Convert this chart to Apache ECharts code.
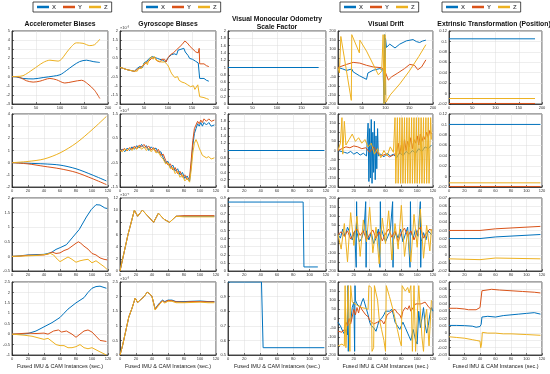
<!DOCTYPE html>
<html><head><meta charset="utf-8">
<script src="https://cdn.jsdelivr.net/npm/echarts/dist/echarts.min.js"></script>
<style>html,body{margin:0;padding:0;background:#fff}#c{width:550px;height:374px}</style>
</head><body><div id="c"></div><script>
// ---------- DATA ----------
const seriesNames = ['X','Y','Z'];
const colTitles = ['Accelerometer Biases','Gyroscope Biases','Visual Monocular Odometry\nScale Factor','Visual Drift','Extrinsic Transformation (Position)'];
const xLabel = 'Fused IMU & CAM Instances (sec.)';

// Row 1
const r1c1X=[[0,0],[10,-0.05],[23,-0.2],[44,-0.25],[65,-0.1],[86,0.05],[100,0.2],[113,0.65],[127,1.2],[141,1.65],[155,1.8],[169,1.65],[183,1.55]];
const r1c1Y=[[0,0],[10,-0.02],[17,-0.1],[30,-0.45],[44,-0.6],[58,-0.5],[79,-0.2],[93,-0.35],[110,-0.7],[127,-0.55],[145,-0.4],[158,-0.8],[172,-1.5],[183,-2.4]];
const r1c1Z=[[0,0],[10,0.02],[23,0.1],[44,0.8],[65,1.55],[79,1.8],[96,1.7],[103,1.9],[113,2.6],[124,3.3],[134,3.7],[148,3.65],[162,3.4],[172,3.5],[183,4.1]];
const r1c2X=[[0,0],[5,-0.03],[10,-0.08],[15,-0.12],[20,-0.15],[25,-0.18],[30,-0.2],[33,-0.15],[36,-0.05],[38,-0.12],[41,0.05],[44,0.1],[47,0],[50,0.25],[53,0.2],[56,0.35],[58,0.3],[61,0.5],[64,0.45],[67,0.6],[70,0.7],[72,0.55],[75,0.65],[78,0.5],[80,0.6],[83,0.45],[86,0.55],[89,0.4],[92,0.5],[95,0.3],[98,0.4],[101,0.55],[104,0.6],[107,0.7],[110,0.6],[113,0.75],[116,0.8],[118,0.7],[121,0.95],[124,0.85],[127,1.0],[130,0.9],[133,1.05],[136,0.85],[139,0.75],[142,0.65],[145,0.5],[148,0.6],[151,0.45],[154,0.5],[157,0.35],[160,0.4],[163,0.25],[165,0.3],[166,-0.6],[170,-0.55],[175,-0.6],[180,-0.7],[185,-0.75]];
const r1c2Y=[[0,0],[5,-0.03],[10,-0.08],[15,-0.12],[20,-0.15],[25,-0.18],[30,-0.22],[33,-0.25],[36,-0.1],[39,-0.15],[42,0],[45,-0.05],[48,0.1],[51,0.05],[54,0.25],[57,0.2],[60,0.35],[63,0.3],[66,0.5],[69,0.4],[72,0.55],[75,0.5],[78,0.35],[81,0.45],[84,0.3],[87,0.45],[90,0.35],[93,0.45],[96,0.3],[99,0.5],[102,0.55],[105,0.7],[108,0.65],[111,0.8],[114,0.75],[117,0.95],[120,0.85],[123,1.1],[126,1.0],[129,1.25],[132,1.2],[135,1.45],[137,1.5],[140,1.35],[143,1.3],[146,1.15],[149,1.2],[152,1.0],[155,1.05],[158,0.85],[161,0.95],[163,0.8],[165,1.05],[166,0.2],[170,0.25],[175,0.2],[180,0.1],[185,0.05]];
const r1c2Z=[[0,0],[5,-0.03],[10,-0.08],[15,-0.12],[20,-0.15],[25,-0.18],[30,-0.2],[33,-0.1],[36,-0.2],[39,-0.05],[42,0.05],[45,-0.05],[48,0.15],[51,0.1],[54,0.3],[57,0.15],[60,0.4],[63,0.35],[66,0.6],[69,0.45],[72,0.6],[75,0.4],[78,0.5],[81,0.35],[84,0.45],[87,0.3],[90,0.4],[93,0.3],[96,0.35],[99,0.15],[102,0],[105,-0.2],[108,-0.35],[111,-0.3],[114,-0.55],[117,-0.6],[120,-0.5],[123,-0.7],[126,-0.65],[129,-0.8],[132,-0.75],[135,-0.85],[138,-0.8],[141,-0.95],[144,-0.9],[147,-1.05],[150,-1.1],[153,-1.0],[156,-1.2],[159,-1.1],[162,-0.95],[165,-0.9],[166,-1.6],[170,-1.55],[175,-1.65],[180,-1.7],[185,-1.75]];
const r1c3X=[[0,1],[185,1]];
const r1c4X=[[0,0],[10,-8],[18,-16],[29,-8],[32,-24],[45,-45],[60,-65],[63,-30],[74,-15],[88,-6],[95,-15],[97,-200],[98,180],[99,-150],[100,160],[102,110],[109,128],[120,107],[130,128],[144,146],[158,153],[165,142],[172,137],[178,145],[185,150]];
const r1c4Y=[[0,0],[18,17],[32,28],[46,24],[60,12],[74,3],[91,-1],[98,-15],[106,-69],[113,-51],[126,-30],[140,-6],[151,17],[161,12],[168,-12],[176,3],[185,42]];
const r1c4Z=[[0,0],[3,-30],[6,170],[28,-180],[29,180],[45,80],[46,150],[60,90],[85,-40],[92,-20],[95,180],[97,-200],[99,180],[101,-190],[110,-150],[130,-90],[150,-20],[170,60],[185,125]];
const r1c5X=[[0,0.105],[185,0.105]];
const r1c5Y=[[0,-0.019],[185,-0.019]];
const r1c5Z=[[0,-0.0095],[185,-0.0095]];

// Row 2
const r2c1X=[[0,0],[20,-0.05],[40,-0.1],[60,-0.2],[80,-0.5],[100,-1.0],[118,-1.5]];
const r2c1Y=[[0,0],[20,-0.1],[40,-0.3],[60,-0.5],[80,-0.8],[100,-1.3],[118,-1.8]];
const r2c1Z=[[0,0],[20,0.1],[40,0.3],[60,0.8],[80,1.6],[100,2.7],[118,3.8]];
const r2c2X=[[0,0],[3,0.05],[6,-0.05],[9,0.1],[12,0],[15,0.15],[18,0.05],[21,0.2],[24,0.1],[27,0.25],[30,0.1],[33,0.2],[36,0],[39,0.15],[42,0.05],[45,0.1],[48,-0.1],[51,-0.05],[54,-0.3],[57,-0.5],[60,-0.45],[63,-0.7],[66,-0.6],[69,-0.85],[72,-0.75],[75,-1.0],[78,-0.9],[81,-1.15],[84,-1.05],[87,-1.25],[89,-0.6],[91,0.2],[93,0.7],[95,0.9],[97,1.1],[99,1.0],[101,1.15],[103,1.0],[105,1.15],[108,1.05],[111,1.15],[114,1.0],[118,1.05]];
const r2c2Y=[[0,0],[3,0.02],[6,0.08],[9,-0.02],[12,0.12],[15,0.05],[18,0.18],[21,0.08],[24,0.22],[27,0.15],[30,0.25],[33,0.1],[36,0.18],[39,0.02],[42,0.12],[45,-0.05],[48,0.05],[51,-0.2],[54,-0.15],[57,-0.4],[60,-0.6],[63,-0.55],[66,-0.8],[69,-0.7],[72,-0.95],[75,-0.85],[78,-1.1],[81,-1.0],[84,-1.2],[87,-1.1],[89,-0.4],[91,0.4],[93,0.9],[95,1.05],[97,1.2],[99,1.1],[101,1.25],[103,1.15],[105,1.3],[108,1.2],[111,1.3],[114,1.2],[118,1.25]];
const r2c2Z=[[0,0],[3,-0.05],[6,0.05],[9,0],[12,0.1],[15,0],[18,0.12],[21,0.05],[24,0.18],[27,0.05],[30,0.15],[33,0],[36,0.1],[39,-0.05],[42,0.08],[45,-0.1],[48,-0.05],[51,-0.25],[54,-0.35],[57,-0.55],[60,-0.5],[63,-0.75],[66,-0.7],[69,-0.95],[72,-0.85],[75,-1.1],[78,-1.0],[81,-1.25],[84,-1.15],[87,-1.3],[89,-0.8],[91,-0.1],[93,0.3],[95,0.45],[97,0.3],[99,0.1],[101,-0.05],[103,-0.2],[105,-0.15],[108,-0.3],[111,-0.25],[114,-0.35],[118,-0.3]];
const r2c3X=[[0,1],[118,1]];
const r2c4X=[[0,0],[4,-5],[8,-10],[12,-15],[16,-5],[20,-20],[24,-10],[28,-25],[32,-15],[36,-30],[38,150],[39,-170],[40,120],[41,-150],[42,170],[43,-180],[44,100],[45,-120],[46,160],[47,-160],[48,80],[49,-100],[50,120],[51,-30],[54,-20],[58,-35],[62,-15],[66,-30],[70,-20],[74,-40],[78,-10],[82,-30],[86,-5],[90,-20],[94,0],[98,-15],[102,10],[106,-5],[110,20],[114,10],[118,30]];
const r2c4Y=[[0,0],[5,10],[10,20],[15,15],[20,25],[25,20],[30,10],[35,15],[40,-10],[45,20],[50,-15],[55,-30],[60,-20],[65,-35],[70,-25],[74,-10],[76,40],[78,-20],[80,30],[82,-30],[84,60],[86,0],[88,50],[90,20],[92,70],[94,10],[96,60],[98,40],[100,80],[102,30],[104,90],[106,50],[108,80],[110,60],[112,100],[114,70],[116,110],[118,90]];
const r2c4Z=[[0,0],[3,40],[5,180],[6,-20],[8,160],[10,30],[14,60],[18,90],[22,50],[26,70],[30,40],[34,60],[38,20],[42,40],[46,-20],[50,10],[54,-40],[58,0],[62,-30],[66,20],[70,-10],[72,180],[73,-180],[75,180],[76,-180],[78,180],[79,-180],[81,180],[82,-180],[84,180],[85,-180],[87,180],[88,-180],[90,180],[91,-180],[93,180],[94,-180],[96,180],[97,-180],[99,180],[100,-180],[102,180],[103,-180],[105,180],[106,-180],[108,180],[109,-180],[111,180],[112,-180],[114,180],[115,-180],[117,180],[118,60]];
const r2c5X=[[0,0.1],[118,0.1]];
const r2c5Y=[[0,-0.019],[118,-0.019]];
const r2c5Z=[[0,-0.012],[118,-0.012]];

// Row 3
const r3c1X=[[0,0],[10,0.02],[20,0.05],[30,0.06],[40,0.07],[49,0.13],[55,0.24],[61,0.31],[68,0.4],[76,0.66],[84,0.92],[93,1.35],[99,1.6],[105,1.77],[110,1.76],[116,1.66],[119,1.64]];
const r3c1Y=[[0,0],[10,0.01],[20,0.04],[30,0.04],[40,0.05],[45,0.08],[50,0.15],[55,0.1],[60,0.12],[65,0.2],[70,0.25],[75,0.35],[80,0.45],[83,0.5],[86,0.45],[90,0.35],[95,0.25],[100,0.1],[105,0.05],[110,-0.05],[115,-0.1],[119,-0.12]];
const r3c1Z=[[0,0],[10,0.01],[20,0.02],[30,0.03],[40,0.06],[48,0.1],[52,0.05],[55,-0.05],[60,-0.18],[65,-0.1],[70,-0.02],[75,-0.1],[80,-0.2],[85,-0.15],[90,-0.12],[95,-0.1],[100,-0.22],[105,-0.15],[110,-0.25],[115,-0.35],[119,-0.45]];
const r3c2X=[[0,0],[5,3],[10,6],[15,8.5],[18,10],[22,9],[28,10],[35,9],[42,8],[48,9.5],[55,8.5],[62,8],[70,9],[80,9],[100,9],[118,9]];
const r3c2Y=[[0,0],[5,3],[10,6],[15,8.5],[18,10],[22,9],[28,10],[35,9],[42,8],[48,9.5],[55,8.5],[62,8],[70,9],[80,9.1],[100,9.1],[118,9.1]];
const r3c2Z=[[0,0],[5,3],[10,6],[15,8.5],[18,10],[22,9],[28,10],[35,9],[42,8],[48,9.5],[55,8.5],[62,8],[70,9],[80,8.9],[100,8.9],[118,8.9]];
const r3c3X=[[0,0.85],[92,0.85],[93,0.05],[110,0.05]];
const r3c4X=[[0,0],[3,-20],[6,30],[9,-10],[12,40],[15,10],[18,-30],[21,20],[23,-180],[23.5,180],[24,10],[27,-40],[30,-20],[33,30],[35,180],[35.5,-180],[36,20],[39,-30],[42,10],[45,-50],[48,-20],[51,30],[53,-180],[53.5,180],[54,40],[57,0],[60,-40],[63,-10],[66,20],[69,180],[69.5,-180],[70,-30],[73,10],[76,-20],[79,30],[82,-40],[85,0],[88,40],[91,-180],[91.5,180],[92,20],[95,-20],[98,30],[101,-10],[104,180],[104.5,-180],[105,-40],[108,10],[111,-30],[114,20],[118,0]];
const r3c4Y=[[0,0],[4,15],[8,-10],[12,20],[16,-25],[20,10],[24,30],[28,-5],[32,20],[36,-30],[40,0],[44,25],[48,-20],[52,15],[56,-35],[60,5],[64,30],[68,-15],[72,20],[76,-40],[80,10],[84,35],[88,-10],[92,20],[96,-30],[100,15],[104,40],[108,-20],[112,10],[116,30],[118,20]];
const r3c4Z=[[0,0],[4,-80],[8,60],[12,-150],[16,120],[20,-60],[24,100],[28,-120],[32,80],[36,-40],[40,150],[44,-100],[48,40],[52,-160],[56,90],[60,-50],[64,130],[68,-140],[72,60],[76,-80],[80,160],[84,-120],[88,20],[92,-150],[96,110],[100,-70],[104,140],[108,-130],[112,50],[116,-90],[118,30]];
const r3c5X=[[0,0.02],[40,0.02],[60,0.022],[118,0.025]];
const r3c5Y=[[0,0.03],[40,0.03],[60,0.032],[118,0.035]];
const r3c5Z=[[0,-0.005],[40,-0.006],[60,-0.004],[118,-0.005]];

// Row 4
const r4c1X=[[0,0],[10,0],[20,0.03],[30,0.15],[40,0.35],[50,0.55],[60,0.8],[65,1.0],[70,1.2],[80,1.5],[90,1.75],[95,2.0],[100,2.2],[105,2.28],[110,2.3],[118,2.2]];
const r4c1Y=[[0,0],[20,0.05],[30,0.03],[40,0.05],[45,0],[52,0.15],[58,0.2],[62,0.1],[68,0.15],[75,0],[80,-0.15],[85,0],[90,0.15],[95,0.2],[100,0.1],[110,-0.3],[118,-0.35]];
const r4c1Z=[[0,0],[15,-0.05],[25,-0.1],[35,-0.2],[40,-0.25],[45,-0.2],[55,-0.5],[60,-0.55],[65,-0.55],[70,-0.65],[75,-0.65],[80,-0.6],[85,-0.5],[90,-0.65],[95,-0.7],[100,-0.65],[105,-0.75],[110,-0.85],[118,-1.0]];
const r4c2X=[[0,0],[3,0.3],[7,0.8],[11,1.3],[15,1.6],[19,1.95],[22,1.8],[26,1.9],[30,2.0],[34,2.15],[37,2.1],[40,2.0],[42,2.05],[44,1.58],[47,1.7],[50,1.8],[53,1.88],[56,1.83],[60,1.88],[65,1.88],[70,1.83],[80,1.83],[90,1.84],[100,1.85],[110,1.83],[118,1.83]];
const r4c2Y=[[0,0],[3,0.3],[7,0.8],[11,1.3],[15,1.6],[19,1.95],[22,1.8],[26,1.9],[30,2.0],[34,2.15],[37,2.1],[40,2.0],[42,2.05],[44,1.56],[47,1.68],[50,1.78],[53,1.86],[56,1.81],[60,1.87],[65,1.86],[70,1.82],[80,1.81],[90,1.83],[100,1.83],[110,1.82],[118,1.82]];
const r4c2Z=[[0,0],[3,0.3],[7,0.8],[11,1.3],[15,1.6],[19,1.95],[22,1.8],[26,1.9],[30,2.0],[34,2.15],[37,2.1],[40,2.0],[42,2.05],[44,1.54],[47,1.65],[50,1.75],[53,1.84],[56,1.78],[60,1.84],[65,1.84],[70,1.79],[80,1.79],[90,1.8],[100,1.81],[110,1.79],[118,1.79]];
const r4c3X=[[0,1],[41,1],[43,0.55],[118,0.55]];
const r4c4X=[[0,-20],[3,-40],[6,-70],[8,-85],[10,-60],[12,-90],[12.5,180],[13,-180],[14,-40],[16,-20],[18,60],[20,90],[21,-180],[21.5,180],[22,100],[24,80],[26,90],[28,60],[30,90],[32,110],[34,80],[36,50],[38,20],[40,-20],[42,-40],[45,-50],[48,-70],[50,-40],[52,-10],[55,0],[58,20],[60,40],[62,30],[65,40],[68,50],[70,20],[72,-20],[75,-40],[78,-60],[80,-40],[82,-20],[85,-50],[88,-80],[90,-100],[92,-120],[95,-60],[98,-120],[100,-140],[102,40],[104,-50],[106,0],[108,60],[110,-30],[112,-80],[114,-40],[116,20],[118,60],[120,40]];
const r4c4Y=[[0,-70],[5,-75],[8,-60],[10,-20],[12,-40],[14,0],[16,-30],[18,-20],[20,50],[22,20],[24,60],[26,30],[28,70],[30,50],[32,40],[35,20],[38,10],[40,-10],[45,-30],[50,-20],[55,-10],[58,-30],[60,-10],[62,20],[65,30],[68,40],[70,30],[72,50],[75,30],[78,20],[80,0],[82,40],[85,60],[88,50],[90,70],[92,40],[95,60],[98,80],[100,70],[105,80],[110,90],[115,60],[118,50]];
const r4c4Z=[[0,-150],[5,-140],[8,-150],[9,180],[10,-160],[12,-170],[13,180],[15,-180],[16,180],[18,90],[20,80],[25,70],[30,60],[35,55],[38,50],[39,180],[42,170],[43,-180],[45,-160],[46,180],[50,100],[52,0],[55,-60],[58,-120],[60,-180],[61,180],[65,120],[70,40],[75,-60],[78,-120],[80,-150],[81,180],[85,150],[88,170],[90,140],[92,180],[94,-180],[96,180],[98,-180],[100,-170],[102,180],[104,170],[106,-100],[108,-180],[110,0],[112,50],[115,-150],[118,100]];
const r4c5X=[[0,0.0105],[10,0.0105],[20,0.0102],[30,0.0095],[35,0.008],[40,0.009],[41.5,0.012],[42.5,0.022],[50,0.023],[60,0.022],[70,0.024],[80,0.025],[90,0.026],[100,0.027],[110,0.028],[118,0.026]];
const r4c5Y=[[0,0.034],[10,0.034],[20,0.033],[25,0.032],[35,0.032],[40,0.035],[41.5,0.036],[42.5,0.058],[45,0.06],[55,0.06],[65,0.059],[80,0.058],[95,0.057],[110,0.056],[118,0.055]];
const r4c5Z=[[0,-0.005],[10,-0.006],[20,-0.007],[30,-0.009],[35,-0.01],[40,-0.011],[41,-0.02],[42,-0.015],[43,0.001],[50,0.0],[60,0.0],[70,-0.001],[80,-0.001],[100,-0.002],[118,-0.003]];

// ---------- LAYOUT ----------
const COLS=[[12,108],[120,216],[228,326],[338,433],[449,542]];
const ROWS=[[31,104],[114,187],[198,271],[282,355]];
const COLORS={X:'#0072BD',Y:'#D95319',Z:'#EDB120'};
const FONT='Liberation Sans, Arial, sans-serif';

const panels=[
 {r:0,c:0,x:[0,200,50],y:[-3,5,1],s:{X:r1c1X,Y:r1c1Y,Z:r1c1Z},smooth:true},
 {r:0,c:1,x:[0,200,50],y:[-2,2,0.5],s:{X:r1c2X,Y:r1c2Y,Z:r1c2Z},exp:'×10⁻³'},
 {r:0,c:2,x:[0,200,50],y:[0,2,0.2],s:{X:r1c3X}},
 {r:0,c:3,x:[0,200,50],y:[-200,200,50],s:{X:r1c4X,Y:r1c4Y,Z:r1c4Z}},
 {r:0,c:4,x:[0,200,50],y:[-0.02,0.12,0.02],s:{X:r1c5X,Y:r1c5Y,Z:r1c5Z}},
 {r:1,c:0,x:[0,120,20],y:[-2,4,1],s:{X:r2c1X,Y:r2c1Y,Z:r2c1Z},smooth:true},
 {r:1,c:1,x:[0,120,20],y:[-1.5,1.5,0.5],s:{X:r2c2X,Y:r2c2Y,Z:r2c2Z},exp:'×10⁻³'},
 {r:1,c:2,x:[0,120,20],y:[0,2,0.2],s:{X:r2c3X}},
 {r:1,c:3,x:[0,120,20],y:[-200,200,50],s:{X:r2c4X,Y:r2c4Y,Z:r2c4Z}},
 {r:1,c:4,x:[0,120,20],y:[-0.02,0.12,0.02],s:{X:r2c5X,Y:r2c5Y,Z:r2c5Z}},
 {r:2,c:0,x:[0,120,20],y:[-0.5,2,0.5],s:{X:r3c1X,Y:r3c1Y,Z:r3c1Z}},
 {r:2,c:1,x:[0,120,20],y:[0,12,2],s:{X:r3c2X,Y:r3c2Y,Z:r3c2Z},exp:'×10⁻⁴'},
 {r:2,c:2,x:[0,120,20],y:[0,0.9,0.1],s:{X:r3c3X}},
 {r:2,c:3,x:[0,120,20],y:[-200,200,50],s:{X:r3c4X,Y:r3c4Y,Z:r3c4Z}},
 {r:2,c:4,x:[0,120,20],y:[-0.02,0.07,0.01],s:{X:r3c5X,Y:r3c5Y,Z:r3c5Z}},
 {r:3,c:0,x:[0,120,20],y:[-1,2.5,0.5],s:{X:r4c1X,Y:r4c1Y,Z:r4c1Z}},
 {r:3,c:1,x:[0,120,20],y:[0,2.5,0.5],s:{X:r4c2X,Y:r4c2Y,Z:r4c2Z},exp:'×10⁻³'},
 {r:3,c:2,x:[0,120,20],y:[0.5,1,0.1],s:{X:r4c3X}},
 {r:3,c:3,x:[0,120,20],y:[-200,200,50],s:{X:r4c4X,Y:r4c4Y,Z:r4c4Z}},
 {r:3,c:4,x:[0,120,20],y:[-0.03,0.07,0.01],s:{X:r4c5X,Y:r4c5Y,Z:r4c5Z}}
];

const grid=[],xAxis=[],yAxis=[],series=[],graphic=[];
const lbl={fontSize:4,color:'#333',fontFamily:FONT,margin:2};
const axLine={onZero:false,lineStyle:{color:'#222',width:0.8}};
const tick={inside:true,length:2,lineStyle:{color:'#222',width:0.6}};
const split={show:true,lineStyle:{color:'#dcdcdc',width:0.5}};
panels.forEach((p,i)=>{
  const [L,R]=COLS[p.c],[T,B]=ROWS[p.r];
  grid.push({left:L,top:T,width:R-L,height:B-T,show:true,borderColor:'#222',borderWidth:0.8,containLabel:false});
  const xa={type:'value',gridIndex:i,min:p.x[0],max:p.x[1],interval:p.x[2],axisLine:axLine,axisTick:tick,
    axisLabel:Object.assign({},lbl,{showMinLabel:true,showMaxLabel:true}),splitLine:split};
  if(p.r===3){xa.name=xLabel;xa.nameLocation='middle';xa.nameGap=8;xa.nameTextStyle={fontSize:5.5,color:'#222',fontFamily:FONT};}
  xAxis.push(xa);
  yAxis.push({type:'value',gridIndex:i,min:p.y[0],max:p.y[1],interval:p.y[2],axisLine:axLine,axisTick:tick,
    axisLabel:Object.assign({},lbl,{showMinLabel:true,showMaxLabel:true,formatter:v=>String(+v.toFixed(4))}),splitLine:split});
  seriesNames.forEach(n=>{
    if(!p.s[n])return;
    series.push({type:'line',name:n,xAxisIndex:i,yAxisIndex:i,data:p.s[n],showSymbol:false,symbol:'none',
      smooth:p.smooth?0.3:false,clip:true,lineStyle:{width:1,color:COLORS[n]},itemStyle:{color:COLORS[n]},animation:false,z:2});
  });
  if(p.exp) graphic.push({type:'text',x:L,y:T-5,style:{text:p.exp,font:'4px '+FONT,fill:'#333'}});
});
// column titles
const titleX=[60,168,277,386,494];
const titleY=[20,20,15,20,20];
colTitles.forEach((t,c)=>{
  graphic.push({type:'text',x:titleX[c],y:titleY[c],style:{text:t,font:'bold 6.8px '+FONT,fill:'#111',textAlign:'center',lineHeight:8}});
});
// legends
const legendLeft=[33,142,340,442];
const legend=legendLeft.map(l=>({left:l,top:2,data:seriesNames,icon:'rect',itemWidth:12,itemHeight:2.5,itemGap:7,
  borderColor:'#222',borderWidth:0.8,padding:[2,4],textStyle:{fontSize:6,fontWeight:'bold',fontFamily:FONT,padding:[0,0,0,-2]},selectedMode:false}));

const chart=echarts.init(document.getElementById('c'),null,{renderer:'canvas'});
chart.setOption({animation:false,backgroundColor:'#fff',grid,xAxis,yAxis,series,legend,graphic});
</script></body></html>
